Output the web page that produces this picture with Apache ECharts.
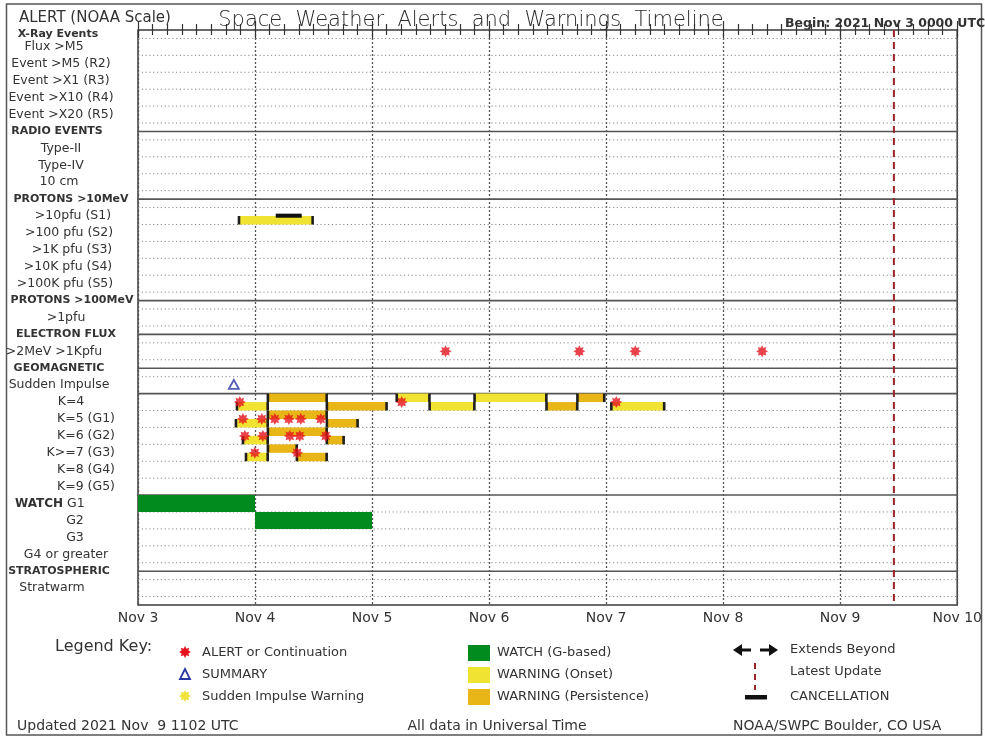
<!DOCTYPE html>
<html><head><meta charset="utf-8">
<script src="https://cdn.jsdelivr.net/npm/echarts@6/dist/echarts.min.js"></script>
<style>html,body{margin:0;padding:0;background:#fff}#c{width:985px;height:739px}</style>
</head><body><div id="c"></div>
<script>
// ---------------- DATA ----------------
const beginLabel = 'Begin: 2021 Nov 3 0000 UTC';
const dayLabels = ['Nov 3', 'Nov 4', 'Nov 5', 'Nov 6', 'Nov 7', 'Nov 8', 'Nov 9', 'Nov 10'];
const rowLabels = ['X-Ray Events', 'Flux >M5', 'Event >M5 (R2)', 'Event >X1 (R3)', 'Event >X10 (R4)', 'Event >X20 (R5)',
  'RADIO EVENTS', 'Type-II', 'Type-IV', '10 cm',
  'PROTONS >10MeV', '>10pfu (S1)', '>100 pfu (S2)', '>1K pfu (S3)', '>10K pfu (S4)', '>100K pfu (S5)',
  'PROTONS >100MeV', '>1pfu', 'ELECTRON FLUX', '>2MeV >1Kpfu',
  'GEOMAGNETIC', 'Sudden Impulse', 'K=4', 'K=5 (G1)', 'K=6 (G2)', 'K>=7 (G3)', 'K=8 (G4)', 'K=9 (G5)',
  'G1', 'G2', 'G3', 'G4 or greater', 'STRATOSPHERIC', 'Stratwarm'];
const headerRows = ['X-Ray Events', 'RADIO EVENTS', 'PROTONS >10MeV', 'PROTONS >100MeV', 'ELECTRON FLUX', 'GEOMAGNETIC', 'STRATOSPHERIC'];
const watchHeader = 'WATCH';
// times are days after 2021 Nov 3 0000 UTC
const alertsElectron = [2.628, 3.771, 4.249, 5.333];
const alertsK4 = [0.870, 2.253, 4.087];
const alertsK5 = [0.896, 1.058, 1.169, 1.288, 1.391, 1.562];
const alertsK6 = [0.913, 1.067, 1.297, 1.382, 1.604];
const alertsK7 = [0.998, 1.360];
const summarySuddenImpulse = [0.819];
// [row, lane (-1 upper half, 1 lower half), start, end]
const warningsOnset = [
  ['>10pfu (S1)', 1, 0.862, 1.493],
  ['K=4', 1, 0.845, 1.109],
  ['K=4', -1, 2.210, 2.491],
  ['K=4', 1, 2.491, 2.875],
  ['K=4', -1, 2.875, 3.490],
  ['K=4', 1, 4.044, 4.497],
  ['K=5 (G1)', 1, 0.836, 1.109],
  ['K=6 (G2)', 1, 0.896, 1.109],
  ['K>=7 (G3)', 1, 0.922, 1.109]
];
const warningsPersistence = [
  ['K=4', -1, 1.109, 1.613],
  ['K=4', 1, 1.613, 2.125],
  ['K=4', 1, 3.490, 3.754],
  ['K=4', -1, 3.754, 3.985],
  ['K=5 (G1)', -1, 1.109, 1.613],
  ['K=5 (G1)', 1, 1.613, 1.877],
  ['K=6 (G2)', -1, 1.109, 1.613],
  ['K=6 (G2)', 1, 1.613, 1.758],
  ['K>=7 (G3)', -1, 1.109, 1.357],
  ['K>=7 (G3)', 1, 1.357, 1.613]
];
const watches = [['G1', 0, 1], ['G2', 1, 2]];
const cancellations = [['>10pfu (S1)', 1.177, 1.399]];
const latestUpdate = 6.459; // 2021 Nov 9 1102 UTC
const footerLeft = 'Updated 2021 Nov  9 1102 UTC';
const footerMid = 'All data in Universal Time';
const footerRight = 'NOAA/SWPC Boulder, CO USA';
const legendTitle = 'Legend Key:';
const legendCol1 = ['ALERT or Continuation', 'SUMMARY', 'Sudden Impulse Warning'];
const legendCol2 = ['WATCH (G-based)', 'WARNING (Onset)', 'WARNING (Persistence)'];
const legendCol3 = ['Extends Beyond', 'Latest Update', 'CANCELLATION'];

// ---------------- STYLE ----------------
const FONT = 'DejaVu Sans';
const COL = { onset: '#f1e331', persist: '#e8b617', watch: '#018a1d', alert: '#e5131d', summary: '#2936a6',
  update: '#9b2428', tick: '#1e1e1e', text: '#333', section: '#555', dots: '#8a8a8a', days: '#555' };
// label placement inside the left column: ['c', centerX] or ['r', rightX]
const labelPlace = [['c',58],['c',54],['c',61],['c',61],['c',61],['c',61],['c',57],['c',61],['c',61],['c',59],
  ['c',71],['c',73],['c',69],['c',72],['c',68],['c',65],['c',72],['c',66],['c',66],['c',54],
  ['c',59],['c',59],['c',71],['r',115],['r',115],['r',115],['r',115],['r',115],
  ['c',79],['c',75],['c',75],['c',66],['c',59],['c',52]];
const LEFT_ANCHOR = 7;

const rowIndex = name => rowLabels.indexOf(name);
const rich = {
  w: { fontFamily: FONT, fontWeight: 'bold', fontSize: 12, color: COL.text },
  sp: { width: 8, fontSize: 12 }
};
rowLabels.forEach((lab, i) => {
  const [a, x] = labelPlace[i];
  const isHead = headerRows.includes(lab);
  rich['r' + i] = {
    width: a === 'c' ? 2 * (x - LEFT_ANCHOR) : x - LEFT_ANCHOR,
    align: a === 'c' ? 'center' : 'right',
    fontFamily: FONT, fontSize: isHead ? 11 : 12.5, fontWeight: isHead ? 'bold' : 'normal', color: COL.text
  };
});
rich.r0.padding = [8, 0, 0, 0];
rich.r28.width = 40; rich.r28.align = 'left';

// star symbol (8 points, chunky)
const starPath = (() => {
  let d = '';
  for (let k = 0; k < 16; k++) {
    const ang = k * Math.PI / 8 - Math.PI / 2, r = k % 2 ? 30 : 50;
    d += (k ? 'L' : 'M') + (50 + r * Math.cos(ang)).toFixed(2) + ' ' + (50 + r * Math.sin(ang)).toFixed(2);
  }
  return d + 'Z';
})();
function starPoly(cx, cy, R) {
  const pts = [];
  for (let k = 0; k < 16; k++) {
    const ang = k * Math.PI / 8 - Math.PI / 2, r = k % 2 ? R * 0.6 : R;
    pts.push([cx + r * Math.cos(ang), cy + r * Math.sin(ang)]);
  }
  return pts;
}

const alertData = [].concat(
  alertsElectron.map(d => [d, rowIndex('>2MeV >1Kpfu')]),
  alertsK4.map(d => [d, rowIndex('K=4')]),
  alertsK5.map(d => [d, rowIndex('K=5 (G1)')]),
  alertsK6.map(d => [d, rowIndex('K=6 (G2)')]),
  alertsK7.map(d => [d, rowIndex('K>=7 (G3)')])
);

// horizontal rules: dotted at every row's lower edge, solid at section headers and K/WATCH blocks
const kTop = rowIndex('K=4') - 0.5, watchTop = rowIndex('G1') - 0.5;
const solidLines = headerRows.map(rowIndex).filter(v => v > 0).concat([kTop, watchTop]);
const dottedLines = rowLabels.map((_, i) => i + 0.5).filter(v => v !== kTop && v !== watchTop);

function laneRect(api, row, lane, s, e) {
  const top = lane < 0 ? row - 0.5 : row;
  const a = api.coord([s, top]), b = api.coord([e, top + 0.5]);
  return { x: a[0], y: a[1], w: b[0] - a[0], h: b[1] - a[1] };
}
function warningRender(color) {
  return (params, api) => {
    const r = laneRect(api, api.value(0), api.value(1), api.value(2), api.value(3));
    return { type: 'group', children: [
      { type: 'rect', shape: { x: r.x, y: r.y, width: r.w, height: r.h }, style: { fill: color } },
      { type: 'rect', shape: { x: r.x - 1.2, y: r.y, width: 2.6, height: r.h }, style: { fill: COL.tick } },
      { type: 'rect', shape: { x: r.x + r.w - 1.4, y: r.y, width: 2.6, height: r.h }, style: { fill: COL.tick } }
    ] };
  };
}
function hLineRender(dash, color, width) {
  return (params, api) => {
    const v = api.value(0);
    const a = api.coord([0, v]), b = api.coord([7, v]);
    return { type: 'line', shape: { x1: a[0], y1: a[1], x2: b[0], y2: b[1] },
      style: { stroke: color, lineWidth: width, lineDash: dash } };
  };
}

const chart = echarts.init(document.getElementById('c'));
const txt = (x, y, text, size, extra) => Object.assign({ type: 'text', x, y,
  style: Object.assign({ text, fontFamily: FONT, fontSize: size, fill: COL.text, align: 'left', verticalAlign: 'middle',
    textAlign: 'left', textVerticalAlign: 'middle' }, (extra || {})) });

const graphics = [
  { type: 'rect', shape: { x: 6.5, y: 4, width: 975, height: 731 }, style: { fill: 'none', stroke: '#555', lineWidth: 1.5 }, z: 0 },
  txt(55, 647, legendTitle, 16),
  { type: 'polygon', shape: { points: starPoly(185, 652, 6) }, style: { fill: COL.alert } },
  { type: 'polygon', shape: { points: [[185, 669], [180, 679], [190, 679]] }, style: { fill: 'none', stroke: COL.summary, lineWidth: 1.8 } },
  { type: 'polygon', shape: { points: starPoly(185, 696, 6) }, style: { fill: '#f0e23a' } },
  txt(202, 653, legendCol1[0], 13), txt(202, 675, legendCol1[1], 13), txt(202, 697, legendCol1[2], 13),
  { type: 'rect', shape: { x: 468, y: 645, width: 22, height: 16 }, style: { fill: COL.watch } },
  { type: 'rect', shape: { x: 468, y: 667, width: 22, height: 16 }, style: { fill: COL.onset } },
  { type: 'rect', shape: { x: 468, y: 689, width: 22, height: 16 }, style: { fill: COL.persist } },
  txt(497, 653, legendCol2[0], 13), txt(497, 675, legendCol2[1], 13), txt(497, 697, legendCol2[2], 13),
  { type: 'polygon', shape: { points: [[733, 650], [742, 644], [742, 648.5], [751, 648.5], [751, 651.5], [742, 651.5], [742, 656]] }, style: { fill: '#111' } },
  { type: 'polygon', shape: { points: [[778, 650], [769, 644], [769, 648.5], [760, 648.5], [760, 651.5], [769, 651.5], [769, 656]] }, style: { fill: '#111' } },
  { type: 'line', shape: { x1: 755, y1: 663, x2: 755, y2: 690 }, style: { stroke: COL.update, lineWidth: 2, lineDash: [6, 5] } },
  { type: 'rect', shape: { x: 745, y: 695, width: 22, height: 4.5 }, style: { fill: '#111' } },
  txt(790, 650, legendCol3[0], 13), txt(790, 672, legendCol3[1], 13), txt(790, 697, legendCol3[2], 13),
  txt(17, 726, footerLeft, 14), txt(497, 726, footerMid, 14, { align: 'center', textAlign: 'center' }),
  txt(733, 726, footerRight, 14)
];

const option = {
  animation: false,
  backgroundColor: '#fff',
  title: [
    { text: 'ALERT (NOAA Scale)', left: 14, top: 6, textStyle: { fontFamily: FONT, fontSize: 15, fontWeight: 'normal', color: COL.text } },
    { text: 'Space  Weather  Alerts  and  Warnings  Timeline', left: 466, top: 5, textAlign: 'center',
      textStyle: { fontFamily: FONT, fontSize: 21, fontWeight: 300, color: '#2a2a2a' } },
    { text: beginLabel, left: 780, top: 12, textStyle: { fontFamily: FONT, fontSize: 12.5, fontWeight: 'bold', color: COL.text } }
  ],
  grid: { left: 138, right: 26, top: 30, bottom: 134, show: true, borderColor: '#3a3a3a', borderWidth: 1.5, backgroundColor: 'transparent' },
  xAxis: [
    { type: 'value', min: 0, max: 7, interval: 1, position: 'bottom',
      axisLine: { show: false },
      axisTick: { show: true, inside: true, length: 9, lineStyle: { color: '#333', width: 1.2 } },
      minorTick: { show: true, splitNumber: 8, length: 6, lineStyle: { color: '#333', width: 1.2 } },
      axisLabel: { formatter: v => dayLabels[Math.round(v)] || '', margin: 6, color: COL.text, fontFamily: FONT, fontSize: 14 },
      splitLine: { show: true, lineStyle: { type: [2, 2], color: COL.days, width: 1.3 } } },
    { type: 'value', min: 0, max: 7, interval: 1, position: 'top',
      axisLine: { show: false },
      axisTick: { show: true, inside: true, length: 8, lineStyle: { color: '#333', width: 1.2 } },
      minorTick: { show: true, splitNumber: 8, length: 5, lineStyle: { color: '#333', width: 1.2 } },
      axisLabel: { show: false }, splitLine: { show: false } }
  ],
  yAxis: { type: 'value', min: 0, max: 34, interval: 1, inverse: true,
    axisLine: { show: false }, axisTick: { show: false }, splitLine: { show: false },
    axisLabel: { align: 'left', margin: 138 - LEFT_ANCHOR, rich,
      formatter: v => {
        const i = Math.round(v);
        if (i >= rowLabels.length) return '';
        if (rowLabels[i] === 'G1') return '{sp| }{w|' + watchHeader + '}{r' + i + '| ' + rowLabels[i] + '}';
        return '{r' + i + '|' + rowLabels[i] + '}';
      } } },
  series: [
    { type: 'custom', name: 'dotted', z: 1, silent: true, data: dottedLines.map(v => [v]), encode: { y: 0 },
      renderItem: hLineRender([1.2, 2.6], COL.dots, 1) },
    { type: 'custom', name: 'sections', z: 2, silent: true, data: solidLines.map(v => [v]), encode: { y: 0 },
      renderItem: hLineRender(null, COL.section, 1.6) },
    { type: 'custom', name: 'WATCH (G-based)', z: 3, data: watches.map(w => [rowIndex(w[0]), w[1], w[2]]), encode: { x: [1, 2], y: 0 },
      renderItem: (params, api) => {
        const row = api.value(0);
        const a = api.coord([api.value(1), row - 0.5]), b = api.coord([api.value(2), row + 0.5]);
        return { type: 'rect', shape: { x: a[0], y: a[1], width: b[0] - a[0], height: b[1] - a[1] }, style: { fill: COL.watch } };
      } },
    { type: 'custom', name: 'WARNING (Onset)', z: 4, data: warningsOnset.map(w => [rowIndex(w[0]), w[1], w[2], w[3]]),
      encode: { x: [2, 3], y: 0 }, renderItem: warningRender(COL.onset) },
    { type: 'custom', name: 'WARNING (Persistence)', z: 4, data: warningsPersistence.map(w => [rowIndex(w[0]), w[1], w[2], w[3]]),
      encode: { x: [2, 3], y: 0 }, renderItem: warningRender(COL.persist) },
    { type: 'custom', name: 'CANCELLATION', z: 5, data: cancellations.map(c => [rowIndex(c[0]), c[1], c[2]]), encode: { x: [1, 2], y: 0 },
      renderItem: (params, api) => {
        const row = api.value(0);
        const a = api.coord([api.value(1), row - 0.14]), b = api.coord([api.value(2), row + 0.1]);
        return { type: 'rect', shape: { x: a[0], y: a[1], width: b[0] - a[0], height: b[1] - a[1] }, style: { fill: '#111' } };
      } },
    { type: 'custom', name: 'Latest Update', z: 6, silent: true, data: [[latestUpdate]], encode: { x: 0 },
      renderItem: (params, api) => {
        const a = api.coord([api.value(0), 0]), b = api.coord([api.value(0), 34]);
        return { type: 'line', shape: { x1: a[0], y1: a[1], x2: b[0], y2: b[1] },
          style: { stroke: COL.update, lineWidth: 2, lineDash: [7, 5] } };
      } },
    { type: 'scatter', name: 'ALERT or Continuation', z: 8, symbol: 'path://' + starPath, symbolSize: 12,
      itemStyle: { color: COL.alert }, data: alertData },
    { type: 'scatter', name: 'SUMMARY', z: 8, symbol: 'triangle', symbolSize: [10, 9],
      itemStyle: { color: 'rgba(0,0,0,0)', borderColor: COL.summary, borderWidth: 1.8 },
      data: summarySuddenImpulse.map(d => [d, rowIndex('Sudden Impulse') - 0.05]) }
  ],
  graphic: graphics
};
chart.setOption(option);
</script></body></html>
